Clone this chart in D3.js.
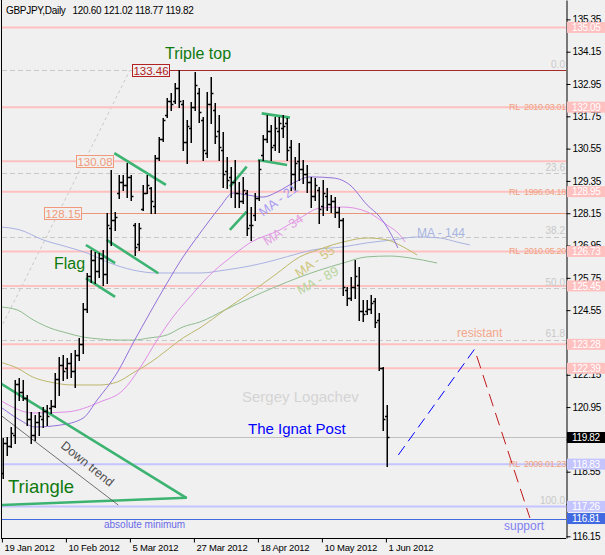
<!DOCTYPE html>
<html><head><meta charset="utf-8">
<script src="https://cdn.jsdelivr.net/npm/d3@7"></script>
<style>
body{margin:0;background:#f0f0f0;}
svg{display:block;font-family:"Liberation Sans",Arial,sans-serif;}
</style></head><body>
<svg id="c" width="605" height="555"></svg>
<script>
// ---------- DATA ----------
const symbol = "GBPJPY,Daily";
const lastQuote = "120.60 121.02 118.77 119.82";
const opens = [118.50,119.60,119.50,119.90,121.80,121.50,121.30,120.50,119.90,120.40,120.50,120.80,120.90,121.00,122.00,122.50,122.40,122.60,122.30,122.90,123.30,124.60,125.80,126.40,126.00,126.50,125.90,127.60,127.90,128.90,129.30,129.20,129.50,127.70,127.00,128.30,128.90,129.10,128.40,130.20,130.90,131.80,132.30,132.30,132.80,132.20,130.80,131.30,132.10,132.60,131.60,130.40,132.20,132.00,131.20,130.50,129.70,129.50,129.30,128.90,128.60,128.90,127.70,128.10,128.70,130.30,130.90,131.20,130.70,131.20,131.30,131.50,130.60,129.60,130.10,129.80,129.60,129.30,128.80,129.00,128.40,128.80,128.50,128.60,128.20,127.90,125.30,125.00,125.40,125.50,124.50,124.50,124.60,124.90,124.20,122.40,120.60];
const highs = [119.80,119.84,120.21,121.96,122.03,121.96,121.40,120.77,120.65,120.77,120.95,121.03,121.21,122.22,122.81,122.88,122.77,122.96,123.07,123.52,124.82,125.93,126.78,126.71,126.67,126.78,128.16,129.76,128.20,129.57,129.57,130.02,129.57,127.79,127.79,129.20,129.57,129.12,130.31,130.98,131.69,132.43,132.62,132.99,133.46,132.36,131.61,132.28,133.40,132.80,131.73,132.65,133.22,132.25,131.80,131.17,130.24,129.87,130.13,129.31,129.50,129.01,128.38,128.90,130.13,131.06,131.80,131.43,131.73,131.73,131.80,131.69,130.87,130.24,130.76,130.13,129.94,129.50,129.46,129.12,129.39,129.09,128.83,128.75,128.38,127.97,125.41,125.78,126.41,126.15,124.93,124.93,125.11,125.00,124.45,122.44,121.02];
const lows = [118.30,119.17,119.47,119.62,121.21,121.21,120.28,119.62,119.73,119.91,120.21,120.28,120.73,120.95,121.40,121.96,122.03,122.07,121.70,122.70,122.96,124.48,125.60,125.56,125.78,125.49,125.56,126.97,127.53,128.72,129.01,128.75,128.64,126.60,126.78,128.27,128.90,128.16,128.16,130.13,130.85,131.73,131.99,132.25,132.10,130.50,130.02,130.80,131.99,131.54,130.13,130.24,131.50,130.76,130.13,129.12,129.09,128.75,128.38,128.38,128.53,127.34,127.16,127.90,128.64,130.13,130.80,130.13,130.50,130.43,130.98,130.13,129.01,129.01,129.39,129.27,128.94,128.38,128.64,127.79,128.08,128.27,128.20,128.01,127.64,125.11,124.74,124.93,125.00,124.18,124.15,124.41,124.45,123.92,122.33,120.10,118.77];
const closes = [119.60,119.50,120.00,121.80,121.50,121.30,120.50,119.90,120.40,120.60,120.80,120.60,121.00,122.00,122.50,122.30,122.60,122.30,122.90,123.30,124.60,125.80,126.40,126.00,126.50,125.90,127.70,127.90,128.00,129.30,129.20,129.50,128.80,126.90,127.60,128.90,129.20,128.60,130.20,130.90,131.60,132.30,132.20,132.80,132.30,130.80,131.40,132.10,132.90,131.90,130.50,132.20,132.60,131.00,130.60,129.60,129.40,129.30,128.90,128.60,129.00,127.60,127.70,128.70,129.80,130.90,131.20,130.60,131.30,131.50,131.40,130.50,129.60,130.00,129.80,129.60,129.30,128.80,129.20,128.30,128.90,128.50,128.60,128.20,127.90,125.40,125.00,125.40,125.80,124.50,124.40,124.60,124.80,124.10,122.40,120.50,119.82];

// moving averages: [bar index, price]
const ma21 = [[-0.2,120.92],[4.3,120.47],[8.1,120.21],[14.3,120.28],[20.1,120.54],[23.6,121.21],[28.6,122.22],[32.6,123.33],[36.8,124.45],[41.1,125.56],[45.1,126.53],[48.1,127.16],[51.8,127.90],[54.3,128.38],[57.6,128.90],[61.1,128.83],[65.1,128.75],[68.6,128.94],[72.6,129.27],[76.8,129.50],[82.6,129.46],[86.8,129.20],[91.1,128.46],[94.3,128.01],[96.8,127.45],[98.8,126.86]];
const ma34 = [[-0.7,121.21],[7.6,120.73],[16.1,120.77],[24.3,121.14],[30.1,121.58],[34.3,122.40],[38.6,123.44],[42.6,124.30],[46.8,125.04],[51.8,125.86],[56.8,126.49],[61.8,127.05],[69.3,127.53],[74.3,127.97],[79.3,128.34],[85.1,128.38],[91.1,128.20],[96.1,127.71],[99.3,127.34],[100.6,127.08]];
const ma55 = [[-0.7,122.62],[3.6,122.40],[7.6,122.06],[11.8,121.88],[17.6,121.77],[24.3,121.77],[28.6,121.88],[32.6,122.22],[36.8,122.59],[41.1,123.07],[45.1,123.52],[49.3,123.89],[55.6,124.56],[61.8,125.19],[68.1,125.86],[74.3,126.53],[78.6,126.78],[85.1,127.08],[91.1,127.23],[96.1,127.16],[100.1,126.90],[103.6,126.60]];
const ma89 = [[-0.7,124.67],[3.6,124.56],[7.6,124.19],[11.8,123.89],[16.1,123.70],[20.1,123.55],[24.3,123.48],[28.6,123.44],[32.6,123.44],[36.8,123.52],[41.1,123.63],[45.1,123.93],[49.3,124.11],[55.6,124.56],[61.8,125.00],[68.1,125.41],[74.3,125.78],[79.3,126.04],[85.1,126.30],[91.1,126.53],[96.8,126.56],[101.8,126.49],[108.6,126.30]];
const ma144 = [[-0.7,127.64],[4.3,127.53],[10.1,127.16],[16.1,126.90],[21.1,126.67],[26.8,126.30],[32.6,126.04],[38.6,125.93],[44.3,125.93],[49.3,125.93],[55.6,126.04],[61.8,126.19],[68.1,126.41],[74.3,126.67],[77.3,126.78],[85.1,126.90],[91.1,127.05],[97.6,127.16],[103.6,127.27],[109.3,127.23],[113.6,127.08],[116.8,126.97]];

const priceTicks = [116.15,117.35,118.55,119.75,120.95,122.15,123.35,124.55,125.75,126.95,128.15,129.35,130.55,131.75,132.95,134.15,135.35];
const fibPrices = [133.46,129.64,127.27,125.36,123.45,117.26];
const fibLabels = ["0.0","23.6","38.2","50.0","61.8","100.0"];
const pinkLevels = [135.05,132.09,130.08,128.95,126.73,125.45,123.28,122.39];
const pinkBoxes = [135.05,132.09,128.95,126.73,125.45,123.28,122.39];
const lightBlueLevels = [118.83,117.26];
const blueLevel = 116.81;
const lastClose = 119.82;
const rlPrices = [132.09,128.95,126.73,118.83];
const rlLabels = ["RL  2010.03.01","RL  1996.04.18","RL  2010.05.20","RL  2009.01.23"];
const tripleTop = 133.46;
const levelA = 130.08;
const levelB = 128.15;
// drawn objects: [[idx,price],[idx,price]]
const greenLines = [
  [[-0.675,121.84],[46.0,117.57]],
  [[-0.25,117.31],[46.0,117.58]],
  [[20.8,126.97],[28.1,126.30]],
  [[20.8,125.74],[28.1,125.04]],
  [[27.9,130.38],[40.8,129.20]],
  [[26.0,127.16],[38.9,125.92]],
  [[56.8,129.14],[61.0,129.88]],
  [[56.8,127.53],[61.0,128.21]],
  [[64.75,131.86],[71.8,131.70]],
  [[63.8,130.13],[71.1,129.94]]
];
const downTrend = [[-0.25,120.62],[28.9,117.31]];
const fibDiagonal = [[-22.8,117.26],[31.8,133.46]];
const upProjection = [[98.9,119.17],[118.1,123.13]];
const downProjection = [[118.5,122.85],[131.8,116.83]];

// ---------- CHART ----------
const svg = d3.select("#c");
const L = 2, R = 566, T = 0, B = 538;
svg.append("rect").attr("width",605).attr("height",555).attr("fill","#f0f0f0");

const dates = d3.timeDay.range(new Date(2012,0,19), new Date(2012,5,2)).filter(d => d.getDay() % 6 !== 0);
const xi = d3.scaleLinear().domain([0, dates.length - 1]).range([2.7, 386.7]);
const xd = d3.scalePoint().domain(dates.map(d => +d)).range([2.7, 386.7]);
const y = d3.scaleLinear().domain([116.087, 136.07]).range([B, T]);
const px = v => Math.round(v) + 0.5;

svg.append("clipPath").attr("id","pc").append("rect").attr("x",L).attr("y",T).attr("width",R-L).attr("height",B-T);
const g = svg.append("g").attr("clip-path","url(#pc)");

// fib levels
g.selectAll(".fib").data(fibPrices).join("line")
  .attr("x1",L).attr("x2",R).attr("y1",d=>px(y(d))).attr("y2",d=>px(y(d)))
  .attr("stroke","#c8c8c8").attr("stroke-dasharray","5,3");
g.append("line").attr("x1",xi(fibDiagonal[0][0])).attr("y1",y(fibDiagonal[0][1]))
  .attr("x2",xi(fibDiagonal[1][0])).attr("y2",y(fibDiagonal[1][1]))
  .attr("stroke","#c8c8c8").attr("stroke-dasharray","3,3");

// horizontal levels
g.selectAll(".pink").data(pinkLevels).join("line")
  .attr("x1",L).attr("x2",R).attr("y1",d=>y(d)).attr("y2",d=>y(d))
  .attr("stroke","#ffc0c0").attr("stroke-width",2);
g.selectAll(".lb").data(lightBlueLevels).join("line")
  .attr("x1",L).attr("x2",R).attr("y1",d=>y(d)).attr("y2",d=>y(d))
  .attr("stroke","#c4c4ff").attr("stroke-width",2);
g.append("line").attr("x1",L).attr("x2",R).attr("y1",px(y(blueLevel))).attr("y2",px(y(blueLevel)))
  .attr("stroke","#4169e1");
g.append("line").attr("x1",L).attr("x2",R).attr("y1",px(y(lastClose))).attr("y2",px(y(lastClose)))
  .attr("stroke","#c0c0c0");
g.append("line").attr("x1",169).attr("x2",R).attr("y1",px(y(tripleTop))).attr("y2",px(y(tripleTop)))
  .attr("stroke","#a52a2a");
g.append("line").attr("x1",80).attr("x2",R).attr("y1",px(y(levelB))).attr("y2",px(y(levelB)))
  .attr("stroke","#e9967a");

// fib labels
g.selectAll(".fibl").data(fibPrices).join("text")
  .attr("x",565).attr("y",d=>y(d)-2.5).attr("text-anchor","end")
  .attr("font-size",10).attr("fill","#c8c8c8").text((d,i)=>fibLabels[i]);
// RL labels
g.selectAll(".rl").data(rlPrices).join("text")
  .attr("x",566).attr("y",d=>y(d)+3).attr("text-anchor","end")
  .attr("font-size",9).attr("fill","#f0a080").attr("letter-spacing",-0.3)
  .attr("xml:space","preserve").text((d,i)=>rlLabels[i]);

// moving averages
const line = d3.line().x(d=>xi(d[0])).y(d=>y(d[1])).curve(d3.curveMonotoneX);
[[ma144,"#aab2e2"],[ma89,"#8fbc8f"],[ma55,"#bdb76b"],[ma34,"#e08ee6"],[ma21,"#9370db"]].forEach(([d,c])=>{
  g.append("path").attr("d",line(d)).attr("fill","none").attr("stroke",c).attr("stroke-width",1);
});

// green objects
g.selectAll(".gl").data(greenLines).join("line")
  .attr("x1",d=>xi(d[0][0])).attr("y1",d=>y(d[0][1]))
  .attr("x2",d=>xi(d[1][0])).attr("y2",d=>y(d[1][1]))
  .attr("stroke","#3cb371").attr("stroke-width",2.6);
g.append("line").attr("x1",xi(downTrend[0][0])).attr("y1",y(downTrend[0][1]))
  .attr("x2",xi(downTrend[1][0])).attr("y2",y(downTrend[1][1]))
  .attr("stroke","#505050").attr("stroke-width",0.8);

// bars
const bars = g.append("g");
opens.forEach((o,i)=>{
  const x = Math.round(xi(i)) + 0.25;
  const yh = Math.round(y(highs[i])), yl = Math.round(y(lows[i]));
  const yo = px(y(o)), yc = px(y(closes[i]));
  bars.append("path")
    .attr("d",`M${x},${yh}V${yl+1}M${x-2.2},${yo}H${x}M${x},${yc}H${x+2.2}`)
    .attr("stroke","#000").attr("stroke-width",1.5).attr("fill","none");
});

// projections
g.append("line").attr("x1",xi(upProjection[0][0])).attr("y1",y(upProjection[0][1]))
  .attr("x2",xi(upProjection[1][0])).attr("y2",y(upProjection[1][1]))
  .attr("stroke","#0000ff").attr("stroke-dasharray","11,6");
g.append("line").attr("x1",xi(downProjection[0][0])).attr("y1",y(downProjection[0][1]))
  .attr("x2",xi(downProjection[1][0])).attr("y2",y(downProjection[1][1]))
  .attr("stroke","#c01818").attr("stroke-dasharray","13,7");

// text annotations
const txt = (x,yy,s,size,fill,extra={}) => {
  const t = g.append("text").attr("x",x).attr("y",yy).attr("font-size",size).attr("fill",fill).text(s);
  Object.entries(extra).forEach(([k,v])=>t.attr(k,v));
  return t;
};
txt(165,59,"Triple top",16,"#0f7a0f");
txt(54,269,"Flag",16,"#0f7a0f");
txt(8,493,"Triangle",18.5,"#0f7a0f");
txt(242,402,"Sergey Logachev",15,"#d4d4d4");
txt(248,434,"The Ignat Post",15,"#0000ff");
txt(457,337,"resistant",12,"#f4a68a");
txt(504,530,"support",12,"#8080f0");
txt(104,528,"absolute minimum",10,"#6a6ae8");
txt(0,0,"Down trend",12.5,"#505050",{transform:"translate(60,447) rotate(39)"});
txt(0,0,"MA - 21",13,"#a99cf0",{transform:"translate(263,217) rotate(-37)"});
txt(0,0,"MA - 34",13,"#e4a3e4",{transform:"translate(267,246) rotate(-34)"});
txt(0,0,"MA - 55",13,"#cfc67c",{transform:"translate(299,278) rotate(-35)"});
txt(0,0,"MA - 89",13,"#b8d49c",{transform:"translate(300,295) rotate(-28)"});
txt(417,237,"MA - 144",12,"#a8b4e0");

// left price labels
const box = (v,x,w,c) => {
  const yy = y(v);
  svg.append("rect").attr("x",x+0.5).attr("y",Math.round(yy-6)+0.5).attr("width",w).attr("height",12)
    .attr("fill","#f0f0f0").attr("stroke",c);
  svg.append("text").attr("x",x+w/2+0.5).attr("y",yy+4.5).attr("text-anchor","middle")
    .attr("font-size",11.5).attr("fill",c).text(d3.format(".2f")(v));
};
box(tripleTop,132,37,"#b22222");
box(levelA,76,37,"#f09a7a");
box(levelB,44,37,"#f09a7a");

// borders
svg.append("line").attr("x1",1.5).attr("x2",1.5).attr("y1",0).attr("y2",B).attr("stroke","#000");
svg.append("line").attr("x1",1).attr("x2",R).attr("y1",B+0.5).attr("y2",B+0.5).attr("stroke","#000");

// price axis (labels fully hidden under the level boxes are left out)
const boxed = pinkBoxes.concat(lightBlueLevels, [blueLevel, lastClose]);
const visibleTicks = priceTicks.filter(t => !boxed.some(b => Math.abs(y(b) - y(t)) < 4));
const ya = svg.append("g").attr("transform",`translate(${R+0.5},0)`)
  .call(d3.axisRight(y).tickValues(priceTicks).tickSize(4).tickSizeOuter(0).tickPadding(2)
    .tickFormat(t => visibleTicks.includes(t) ? d3.format(".2f")(t) : ""));
ya.select(".domain").attr("stroke","#000");
ya.selectAll("text").attr("font-size",10).attr("letter-spacing",-0.35).attr("fill","#000").attr("font-family","Liberation Sans, Arial, sans-serif");

// right boxes
const rbox = (v,bg,fg) => {
  const yy = y(v);
  svg.append("rect").attr("x",567).attr("y",yy-5.5).attr("width",38).attr("height",11).attr("fill",bg);
  svg.append("text").attr("x",572).attr("y",yy+3.6).attr("font-size",10).attr("letter-spacing",-0.35)
    .attr("fill",fg).text(d3.format(".2f")(v));
};
pinkBoxes.forEach(v=>rbox(v,"#ffc0c0","#fff"));
lightBlueLevels.forEach(v=>rbox(v,"#c4c4ff","#fff"));
rbox(blueLevel,"#4169e1","#fff");
rbox(lastClose,"#000","#fff");

// date axis
const fmt = d3.timeFormat("%-d %b %Y");
const xa = svg.append("g").attr("transform",`translate(-0.8,${B+0.5})`)
  .call(d3.axisBottom(xd).tickValues(xd.domain().filter((d,i)=>i%16===0)).tickSize(4).tickSizeOuter(0)
    .tickFormat(d=>fmt(new Date(d))));
xa.select(".domain").remove();
xa.selectAll("text").attr("text-anchor","start").attr("x",2).attr("dy","0.55em")
  .attr("font-size",9.5).attr("letter-spacing",-0.2).attr("fill","#000").attr("font-family","Liberation Sans, Arial, sans-serif");

// title
svg.append("text").attr("x",6).attr("y",14).attr("font-size",10).attr("letter-spacing",-0.3).attr("fill","#000").text(symbol);
svg.append("text").attr("x",72.5).attr("y",14).attr("font-size",10).attr("letter-spacing",-0.3).attr("fill","#000").text(lastQuote);
</script>
</body></html>
